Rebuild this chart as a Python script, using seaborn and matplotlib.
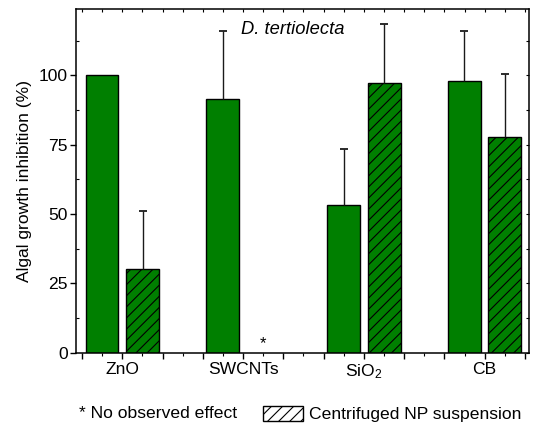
import numpy as np
import pandas as pd
import matplotlib
matplotlib.use("Agg")
import matplotlib.pyplot as plt
import seaborn as sns
from matplotlib.patches import Rectangle
from matplotlib.ticker import FixedLocator, MultipleLocator, NullFormatter

# ---------------- data ----------------
categories = ["ZnO", "SWCNTs", "SiO$_\\mathregular{2}$", "CB"]
series = ["NP suspension", "Centrifuged NP suspension"]
pristine = [100.0, 91.4, 53.4, 98.0]
pristine_err = [0.0, 24.6, 20.2, 18.1]
centrifuged = [30.0, np.nan, 97.3, 77.6]
centrifuged_err = [21.0, np.nan, 21.1, 23.0]
no_effect = [False, True, False, False]
y_ticks = [0, 25, 50, 75, 100]
title = "D. tertiolecta"
ylabel = "Algal growth inhibition (%)"
note_text = "* No observed effect"
legend_text = "Centrifuged NP suspension"

green = "#007F00"
FS = 12.6

rows = []
for c, v in zip(categories, pristine):
    rows.append({"cat": c, "series": series[0], "val": v})
for c, v in zip(categories, centrifuged):
    rows.append({"cat": c, "series": series[1], "val": v})
df = pd.DataFrame(rows).dropna()

sns.set_theme(style="ticks")
plt.rcParams["font.family"] = ["Liberation Sans", "DejaVu Sans"]
plt.rcParams["mathtext.fontset"] = "custom"
plt.rcParams["mathtext.rm"] = "Liberation Sans"
plt.rcParams["mathtext.it"] = "Liberation Sans:italic"
plt.rcParams["hatch.linewidth"] = 0.8
plt.rcParams["text.color"] = "black"
plt.rcParams["axes.labelcolor"] = "black"
plt.rcParams["xtick.color"] = "black"
plt.rcParams["ytick.color"] = "black"

fig = plt.figure(figsize=(5.39, 4.33), dpi=100)
ax = fig.add_axes([0.141, 0.1855, 0.8404, 0.793])

sns.barplot(data=df, x="cat", y="val", hue="series", order=categories,
            hue_order=series, palette=[green, green], saturation=1,
            width=0.672, gap=0.19, edgecolor="black", linewidth=1.0,
            errorbar=None, legend=False, ax=ax)

for bar in ax.containers[1]:
    bar.set_hatch("///")

# error bars (upper only)
def add_err(container, vals, errs):
    valid = [(v, e) for v, e in zip(vals, errs) if not np.isnan(v)]
    xs, ys, es = [], [], []
    for p, (v, e) in zip(container, valid):
        if e and e > 0:
            xs.append(p.get_x() + p.get_width() / 2)
            ys.append(p.get_height())
            es.append(e)
    eb = ax.errorbar(xs, ys, yerr=[np.zeros(len(es)), es], fmt="none",
                     ecolor="#1a1a1a", elinewidth=1.0, capsize=2.6,
                     capthick=1.3, zorder=1)
    for cl in eb[1]:
        if np.allclose(cl.get_ydata(), ys):
            cl.set_visible(False)

add_err(ax.containers[0], pristine, pristine_err)
add_err(ax.containers[1], centrifuged, centrifuged_err)

# asterisk for no observed effect
p0 = ax.containers[1][0]
off = p0.get_x() + p0.get_width() / 2
for i, flag in enumerate(no_effect):
    if flag:
        ax.text(i + off, 0.5, "*", ha="center", va="bottom", fontsize=12)

ax.set_xlim(-0.383, 3.367)
ax.set_ylim(0, 123.8)

# x ticks
majors = [k / 3 for k in range(-1, 11)]
labels = []
for k in range(-1, 11):
    labels.append(categories[k // 3] if k % 3 == 0 else "")
ax.xaxis.set_major_locator(FixedLocator(majors))
ax.set_xticklabels(labels)
ax.xaxis.set_minor_locator(FixedLocator([k / 6 for k in range(-2, 21)]))
ax.tick_params(axis="x", which="major", direction="out", length=4, width=1,
               labelsize=FS, pad=3, color="black")
ax.tick_params(axis="x", which="minor", direction="out", length=2, width=0.8,
               color="black")

ax.set_yticks(y_ticks)
ax.yaxis.set_minor_locator(MultipleLocator(12.5))
ax.tick_params(axis="y", which="major", direction="out", length=4, width=1,
               labelsize=FS, pad=2, color="black")
ax.tick_params(axis="y", which="minor", direction="in", length=2.5, width=0.8,
               color="black")

sec_x = ax.secondary_xaxis("top")
sec_x.xaxis.set_major_locator(FixedLocator([k / 6 for k in range(-2, 21)]))
sec_x.tick_params(direction="in", length=2.5, width=0.8, labeltop=False)
sec_x.xaxis.set_major_formatter(NullFormatter())
sec_x.spines["top"].set_visible(False)

sec_y = ax.secondary_yaxis("right")
sec_y.yaxis.set_major_locator(MultipleLocator(12.5))
sec_y.tick_params(direction="in", length=2.5, width=0.8, labelright=False)
sec_y.yaxis.set_major_formatter(NullFormatter())
sec_y.spines["right"].set_visible(False)

for s in ax.spines.values():
    s.set_visible(True)
    s.set_linewidth(1.1)
    s.set_color("black")

ax.set_xlabel("")
ax.set_ylabel(ylabel, fontsize=FS, labelpad=5)

ax.text(0.479, 0.94, title, transform=ax.transAxes, ha="center", va="center",
        fontsize=13.2, style="italic")

# bottom note / legend
fig.text(79 / 539, 1 - 414 / 433, note_text, ha="left", va="center", fontsize=FS)
fig.patches.append(Rectangle((263 / 539, 1 - 421 / 433), 40 / 539, 15 / 433,
                             transform=fig.transFigure, facecolor="white",
                             edgecolor="black", linewidth=1.0, hatch="///"))
fig.text(309 / 539, 1 - 414 / 433, legend_text, ha="left", va="center", fontsize=FS)

fig.savefig("out.png", dpi=100)
